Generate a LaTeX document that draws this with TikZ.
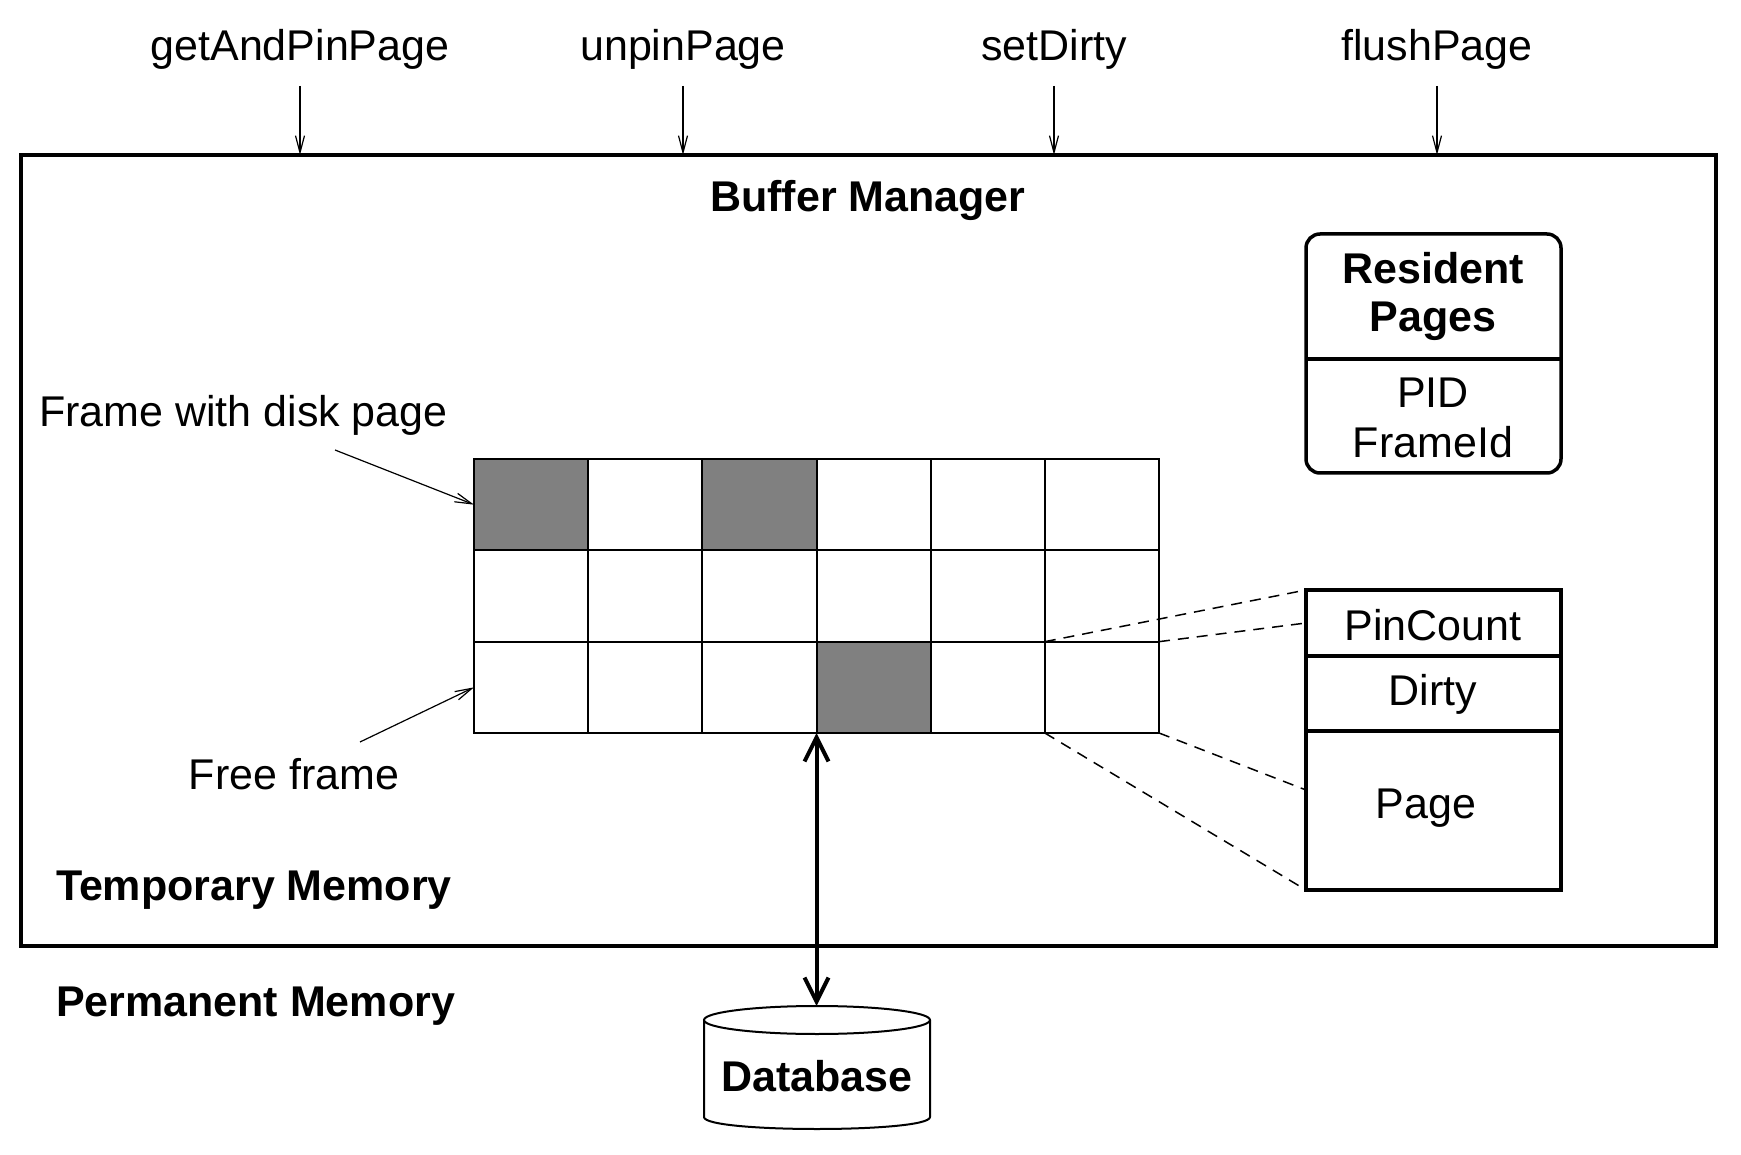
\documentclass[tikz,border=0pt]{standalone}
\usepackage{fontspec}
\setmainfont{Liberation Sans}
\usetikzlibrary{arrows.meta}
\definecolor{shade}{HTML}{808080}
\begin{document}
\begin{tikzpicture}[x=1pt,y=-1pt,
  every node/.style={font=\fontsize{43}{48}\selectfont, inner sep=0pt, outer sep=0pt},
  lbl/.style={anchor=base},
  blbl/.style={anchor=base, font=\fontsize{43}{48}\selectfont\bfseries},
  cell/.style={draw, line width=2pt, minimum width=114.17pt, minimum height=91.33pt},
  thinarrow/.style={line width=1.2pt, -{Straight Barb[length=17pt,width=9pt]}},
  dblarrow/.style={line width=4pt, {Straight Barb[length=24pt,width=24pt]}-{Straight Barb[length=24pt,width=24pt]}},
  zoomline/.style={line width=1.5pt, dash pattern=on 11pt off 8pt}]
\useasboundingbox (0,0) rectangle (1741,1155);

% main box
\node[draw, line width=4pt, minimum width=1695pt, minimum height=791pt] (bm) at (868.5,550.5) {};
\node[blbl] (bmt) at (868,212) {Buffer Manager};

% top labels and arrows
\node[lbl] (lg) at (300,61) {getAndPinPage};
\node[lbl] (lu) at (683,61) {unpinPage};
\node[lbl] (ls) at (1054,61) {setDirty};
\node[lbl] (lf) at (1437,61) {flushPage};
\foreach \n in {lg,lu,ls,lf}{
  \draw[thinarrow] ([yshift=-16pt]\n.south) -- (\n.south |- bm.north);
}

% resident pages
\node[draw, line width=3.5pt, rounded corners=14pt, minimum width=255pt, minimum height=239pt] (rp) at (1433.5,353.5) {};
\draw[line width=3.5pt] (rp.west |- 0,359) -- (rp.east |- 0,359);
\node[blbl] (rp1) at (1433,284) {Resident};
\node[blbl] (rp2) at (1433,332) {Pages};
\node[lbl] (rp3) at (1433,408) {PID};
\node[lbl] (rp4) at (1433,457) {FrameId};

% grid of frames
\foreach \r in {0,1,2}{\foreach \c in {0,...,5}{
  \pgfmathtruncatemacro\sh{((\r==0)&&((\c==0)||(\c==2)))||((\r==2)&&(\c==3))}
  \ifnum\sh=1 \def\cf{shade}\else\def\cf{white}\fi
  \node[cell, fill=\cf] (c\r\c) at ({474+(\c+0.5)*114.17},{459+(\r+0.5)*91.33}) {};
}}

% labels on the left
\node[anchor=base west] (fw) at (39,427) {Frame with disk page};
\coordinate (fwt) at (335,450);
\draw[thinarrow] (fwt) -- (c00.west);
\node[lbl] (ff) at (294,789) {Free frame};
\coordinate (fft) at (360,742);
\draw[thinarrow] (fft) -- (c20.west);

\node[blbl, anchor=base west] (tm) at (56,900) {Temporary Memory};
\node[blbl, anchor=base west] (pm) at (56,1016) {Permanent Memory};

% frame detail
\node[draw, line width=4pt, minimum width=255pt, minimum height=300pt] (pc) at (1433.5,740) {};
\draw[line width=4pt] (pc.west |- 0,656) -- (pc.east |- 0,656);
\draw[line width=4pt] (pc.west |- 0,731) -- (pc.east |- 0,731);
\node[lbl] (pin) at (1433,640) {PinCount};
\node[lbl] (dirty) at (1433,705) {Dirty};
\node[lbl] (page) at (1426,818) {Page};

\draw[zoomline] (c25.north west) -- (pc.north west);
\draw[zoomline] (c25.north east) -- (pc.west |- 0,623);
\draw[zoomline] (c25.south east) -- (pc.west |- 0,790);
\draw[zoomline] (c25.south west) -- (pc.south west);

% database
\draw[line width=2pt, fill=white] (704,1020) -- (704,1117) .. controls (704,1133) and (930,1133) .. (930,1117) -- (930,1020);
\draw[line width=2pt, fill=white] (817,1020) ellipse [x radius=113, y radius=14];
\coordinate (dbtop) at (817,1006);
\node[blbl] (db) at (817,1091) {Database};

\draw[dblarrow] (c23.south west) -- (c23.south west |- dbtop);
\end{tikzpicture}
\end{document}
